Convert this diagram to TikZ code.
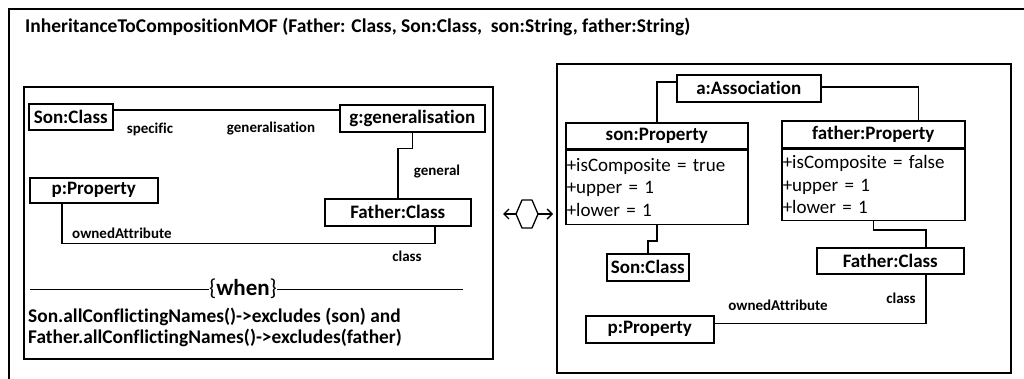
\documentclass[tikz,border=0pt]{standalone}
\usepackage{fontspec}
\setmainfont{Carlito}[Ligatures=NoCommon]
\usetikzlibrary{arrows.meta}
\begin{document}
\begin{tikzpicture}[x=1pt,y=-1pt,
  box/.style={draw, line width=1.5pt, inner sep=0pt, anchor=north west, font=\bfseries\fontsize{19}{22}\selectfont},
  lbl/.style={inner sep=0pt, font=\bfseries\fontsize{15}{17}\selectfont},
  conn/.style={line width=1.5pt},
  frm/.style={draw, line width=1.8pt, inner sep=0pt, anchor=north west},
  cond/.style={anchor=west, inner sep=0pt, font=\bfseries\fontsize{19.4}{22}\selectfont},
  attrs/.style={draw, line width=1.5pt, inner xsep=1pt, inner ysep=0pt, anchor=north, align=left, text width=180pt, font=\fontsize{19}{22.5}\selectfont}]
\useasboundingbox (0,0) rectangle (1024,378);
% outer frame
\coordinate (ob) at (9,380);
\coordinate (oc) at (9,9);
\coordinate (or) at (1026,9);
\draw[line width=1.8pt] (ob) -- (oc) -- (or);
\node[anchor=west, inner sep=0pt, font=\bfseries\fontsize{19.5}{22}\selectfont] (title) at (25,27)
  {InheritanceToCompositionMOF (Father: Class, Son:Class,\ \ son:String, father:String)};
% left pattern
\node[frm, minimum width=469pt, minimum height=272pt] (lhs) at (23,86) {};
\node[box, minimum width=84pt, minimum height=26pt] (sonL) at (28,103) {Son:Class};
\node[box, minimum width=145pt, minimum height=27pt] (genL) at (339,104) {g:generalisation};
\node[box, minimum width=128pt, minimum height=25pt] (pL) at (29,177) {p:Property};
\node[box, minimum width=146pt, minimum height=27pt] (fatherL) at (324,198) {Father:Class};
\draw[conn] ([yshift=-7pt]sonL.north east) -- ([yshift=-6pt]genL.north west);
\draw[conn] (genL.south) -- ++(0,16) -| (fatherL.north);
\draw[conn] ([xshift=-32pt]pL.south) -- ++(0,40) -| ([xshift=37pt]fatherL.south);
\node[lbl] (lspec) at (150,129) {specific};
\node[lbl] (lgen) at (271,129) {generalisation};
\node[lbl] (lgeneral) at (437,172) {general};
\node[lbl, anchor=west] (lowned) at (72,233) {ownedAttribute};
\node[lbl] (lclass) at (407,256) {class};
\node[inner sep=0pt, font=\fontsize{23}{26}\selectfont] (when) at (243,289) {\{\textbf{when}\}};
\coordinate (wl) at (30,289);
\coordinate (wr) at (463,289);
\draw[line width=1pt] (wl) -- (when.west);
\draw[line width=1pt] (when.east) -- (wr);
\node[cond] (cond1) at (28,317) {Son.allConflictingNames()->excludes (son) and};
\node[cond] (cond2) at (28,338) {Father.allConflictingNames()->excludes(father)};
% hexagon
\coordinate (h1) at (516,214);
\coordinate (h2) at (522,200);
\coordinate (h3) at (532,200);
\coordinate (h4) at (538,214);
\coordinate (h5) at (532,228);
\coordinate (h6) at (522,228);
\draw[line width=1.3pt, line join=round] (h1) -- (h2) -- (h3) -- (h4) -- (h5) -- (h6) -- cycle;
\coordinate (al) at (503,214);
\coordinate (ar) at (553,214);
\draw[line width=1.3pt, -{Straight Barb[length=5pt,width=10pt,line width=1.3pt]}] (h1) -- (al);
\draw[line width=1.3pt, -{Straight Barb[length=5pt,width=10pt,line width=1.3pt]}] (h4) -- (ar);
% right pattern
\node[frm, minimum width=454pt, minimum height=309pt] (rhs) at (556,63) {};
\node[box, minimum width=144pt, minimum height=27pt] (assoc) at (676,74) {a:Association};
\node[box, minimum width=182pt, minimum height=26pt] (sonP) at (565,122) {son:Property};
\node[attrs, minimum height=74pt] (sonB) at (sonP.south) {+isComposite = true\\+upper = 1\\+lower = 1};
\node[box, minimum width=183pt, minimum height=27pt] (fatherP) at (781,120) {father:Property};
\node[attrs, minimum height=71pt, text width=181pt] (fatherB) at (fatherP.south) {+isComposite = false\\+upper = 1\\+lower = 1};
\node[box, minimum width=82pt, minimum height=27pt] (sonR) at (606,253) {Son:Class};
\node[box, minimum width=147pt, minimum height=26pt] (fatherR) at (816,247) {Father:Class};
\node[box, minimum width=128pt, minimum height=27pt] (pR) at (585,315) {p:Property};
\draw[conn] ([yshift=-8pt]assoc.north west) -| (sonP.north);
\draw[conn] ([yshift=-13pt]assoc.north east) -| ([xshift=45pt]fatherP.north);
\draw[conn] (sonB.south) -- ++(0,16) -| (sonR.north);
\draw[conn] (fatherB.south) -- ++(0,9) -| ([xshift=35.5pt]fatherR.north);
\draw[conn] ([xshift=35.5pt]fatherR.south) |- ([yshift=6pt]pR.east);
\node[lbl] (rclass) at (901,298) {class};
\node[lbl] (rowned) at (778,305) {ownedAttribute};
\end{tikzpicture}
\end{document}
